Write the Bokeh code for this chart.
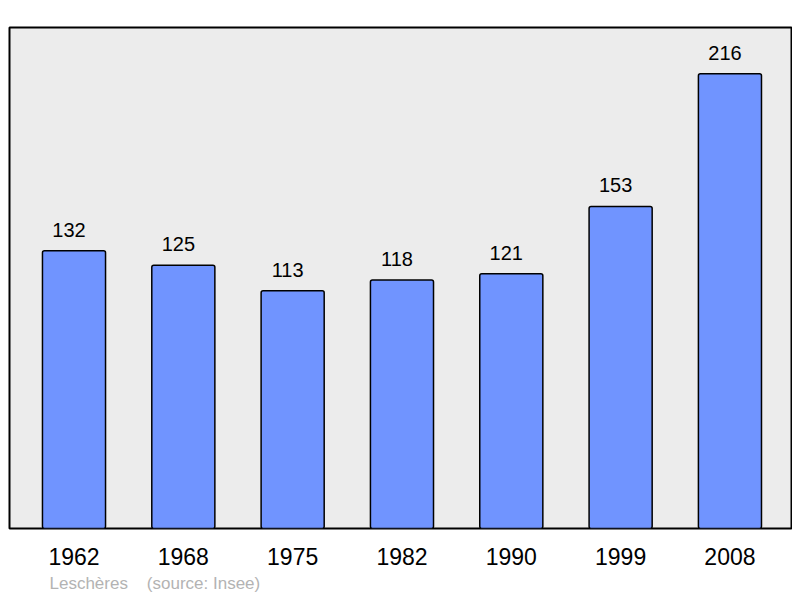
from bokeh.plotting import figure
from bokeh.models import Range1d, ColumnDataSource, Title, FixedTicker
from bokeh.core.properties import value
from bokeh.embed import file_html
from bokeh.resources import INLINE

years = ["1962", "1968", "1975", "1982", "1990", "1999", "2008"]
population = [132, 125, 113, 118, 121, 153, 216]
source_note = "Leschères\u00a0\u00a0\u00a0\u00a0(source: Insee)"

idx = list(range(len(years)))
src = ColumnDataSource(dict(x=idx, top=population, label=[str(v) for v in population]))

p = figure(width=792, height=596, output_backend="svg", toolbar_location=None,
           x_range=Range1d(-0.59, 6.563), y_range=Range1d(0, 238),
           min_border_left=9, min_border_right=1, min_border_top=27, min_border_bottom=68)

p.background_fill_color = "#ececec"
p.border_fill_color = "white"
p.outline_line_color = "black"
p.outline_line_width = 2
p.xgrid.visible = False
p.ygrid.visible = False
p.yaxis.visible = False

p.vbar(x="x", top="top", bottom=0, width=0.577, source=src,
       fill_color="#7094ff", line_color="black", line_width=1.5, border_radius=2)
p.text(x="x", y="top", text="label", source=src, text_align="center",
       text_baseline="alphabetic", x_offset=-5, y_offset=-21,
       text_font=value("Liberation Sans"), text_font_size="20px", text_color="black")

ax = p.xaxis[0]
ax.ticker = FixedTicker(ticks=idx)
ax.major_label_overrides = {i: y for i, y in zip(idx, years)}
ax.axis_line_color = None
ax.major_tick_line_color = None
ax.minor_tick_line_color = None
ax.major_tick_out = 0
ax.major_tick_in = 0
ax.major_label_standoff = 19
ax.major_label_text_font = "Liberation Sans"
ax.major_label_text_font_size = "23px"
ax.major_label_text_color = "black"

t = Title(text=source_note, align="left", text_font="Liberation Sans",
          text_font_size="17px", text_color="#b3b3b3", text_font_style="normal",
          offset=40, standoff=8)
p.add_layout(t, "below")

open("out.html", "w").write(file_html(p, INLINE))
